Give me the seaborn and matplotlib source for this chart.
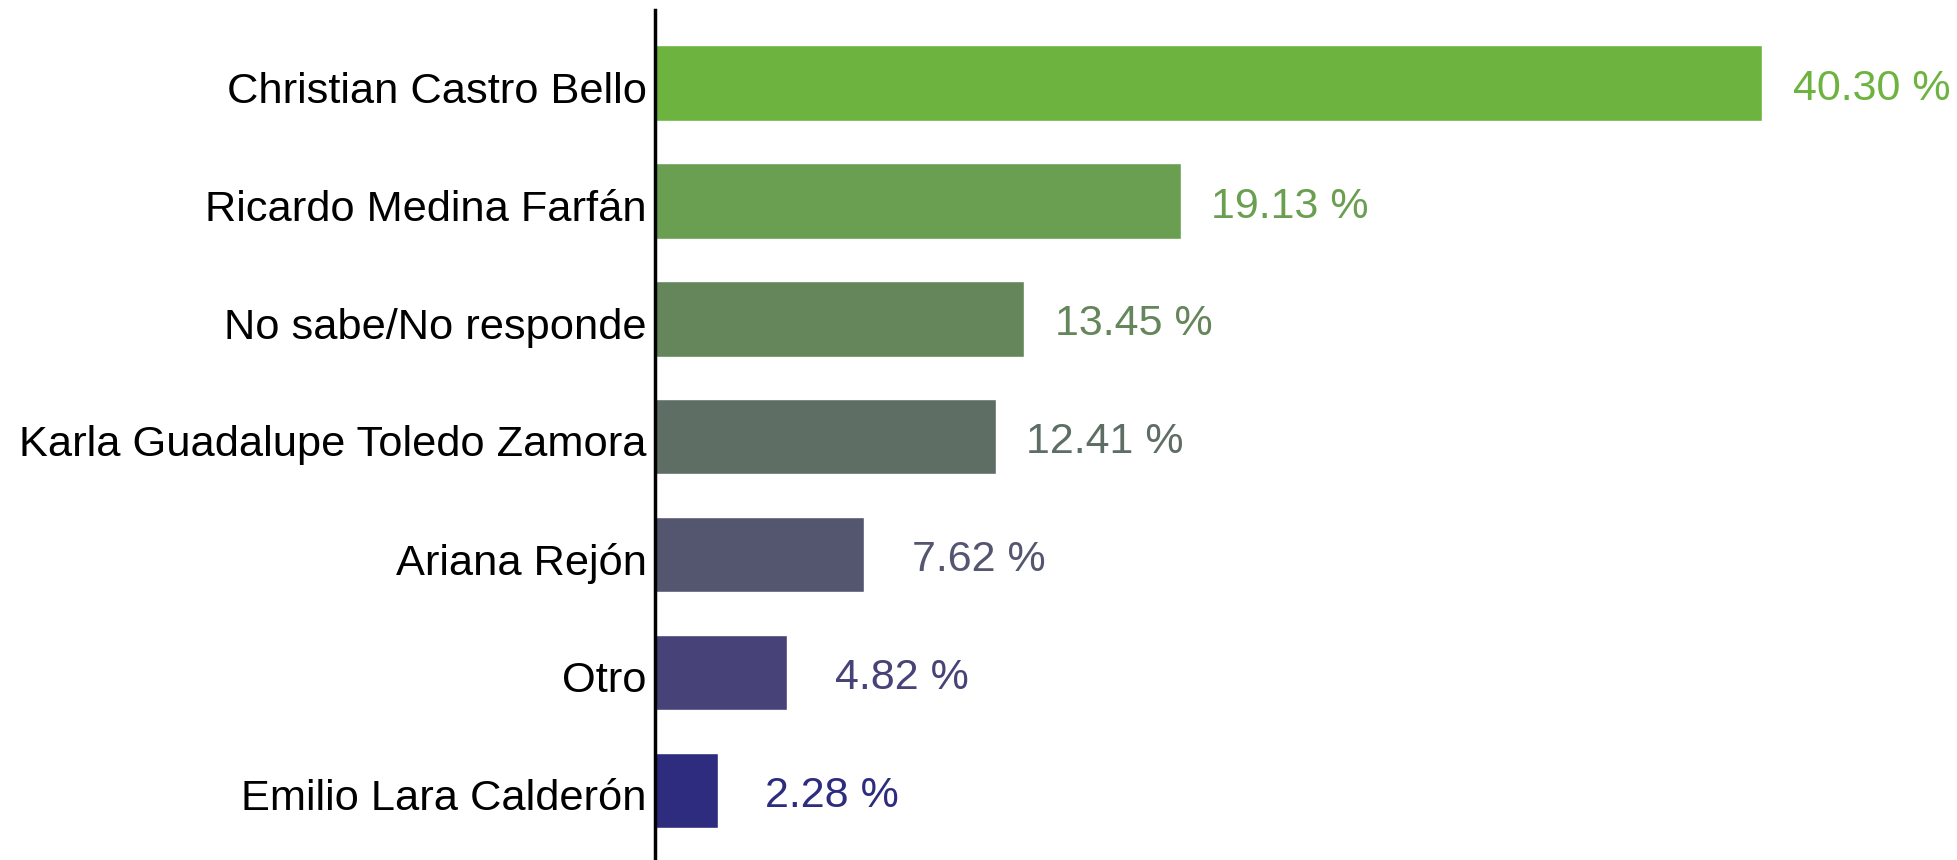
import matplotlib
matplotlib.use("Agg")
import matplotlib.pyplot as plt
import matplotlib.transforms as mtransforms
import seaborn as sns
import pandas as pd

categories = ["Christian Castro Bello", "Ricardo Medina Farfán", "No sabe/No responde",
              "Karla Guadalupe Toledo Zamora", "Ariana Rejón", "Otro", "Emilio Lara Calderón"]
values = [40.30, 19.13, 13.45, 12.41, 7.62, 4.82, 2.28]
colors = ["#6db33f", "#6a9e50", "#64865a", "#5e6e65", "#545670", "#474277", "#2e2c7e"]

sns.set_theme(style="white")
plt.rcParams['font.family'] = ['Liberation Sans', 'DejaVu Sans']

df = pd.DataFrame({"cand": categories, "val": values})

fig = plt.figure(figsize=(19.57, 8.6), dpi=100)
ax = fig.add_axes([655 / 1957, 0.0, 1 - 655 / 1957, 1 - 10 / 860])
sns.barplot(data=df, y="cand", x="val", hue="cand", palette=colors, legend=False,
            width=0.64, ax=ax, saturation=1)

ax.set_xlim(0, (1957 - 655) / 27.47)
ax.set_ylim(6.59, -0.62)
for s in ["top", "right", "bottom"]:
    ax.spines[s].set_visible(False)
ax.spines["left"].set_color("black")
ax.spines["left"].set_linewidth(2.5)
ax.set_xticks([])
ax.set_xlabel("")
ax.set_ylabel("")
ax.tick_params(axis="y", length=0, pad=6, labelsize=31.2, labelcolor="black")

shift = mtransforms.ScaledTranslation(0, -3 / 72, fig.dpi_scale_trans)
for lab in ax.get_yticklabels():
    lab.set_transform(lab.get_transform() + shift)

for i, (v, c) in enumerate(zip(values, colors)):
    off = 22 if v >= 10 else 34
    ax.annotate(f"{v:.2f} %", xy=(v, i), xytext=(off, -4), textcoords="offset points",
                va="center", ha="left", fontsize=31, color=c)

fig.savefig("out.png", dpi=100)
